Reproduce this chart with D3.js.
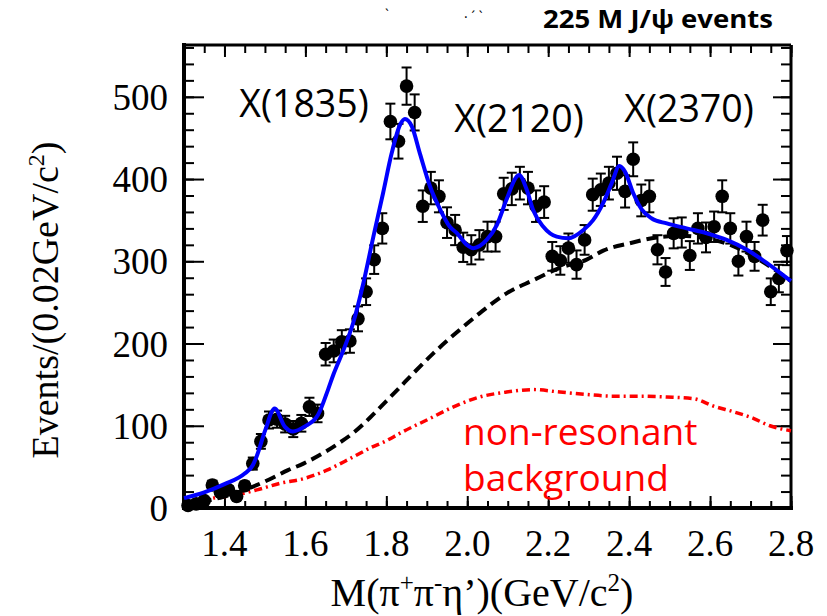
<!DOCTYPE html>
<html>
<head>
<meta charset="utf-8">
<script src="https://cdn.jsdelivr.net/npm/d3@7/dist/d3.min.js"></script>
<style>
  body { margin: 0; background: #fff; }
  svg { display: block; }
</style>
</head>
<body>
<svg id="chart" width="827" height="616"></svg>
<script>
// Bin centres of M(pi+ pi- eta') in GeV/c^2 (0.02 GeV bins)
const massBins = [
  1.31, 1.33, 1.35, 1.37, 1.39, 1.41, 1.43, 1.45, 1.47, 1.49,
  1.51, 1.53, 1.55, 1.57, 1.59, 1.61, 1.63, 1.65, 1.67, 1.69,
  1.71, 1.73, 1.75, 1.77, 1.79, 1.81, 1.83, 1.85, 1.87, 1.89,
  1.91, 1.93, 1.95, 1.97, 1.99, 2.01, 2.03, 2.05, 2.07, 2.09,
  2.11, 2.13, 2.15, 2.17, 2.19, 2.21, 2.23, 2.25, 2.27, 2.29,
  2.31, 2.33, 2.35, 2.37, 2.39, 2.41, 2.43, 2.45, 2.47, 2.49,
  2.51, 2.53, 2.55, 2.57, 2.59, 2.61, 2.63, 2.65, 2.67, 2.69,
  2.71, 2.73, 2.75, 2.77, 2.79
];
// Events per bin
const events = [
  3, 5, 9, 28, 19, 22, 14, 27, 54, 81,
  107, 108, 102, 96, 103, 123, 115, 187, 191, 202,
  203, 230, 263, 302, 340, 470, 446, 513, 481, 367,
  389, 379, 347, 338, 317, 314, 320, 330, 330, 382,
  388, 395, 389, 367, 372, 306, 301, 316, 296, 326,
  381, 387, 395, 407, 385, 424, 374, 379, 314, 287,
  334, 335, 307, 340, 329, 342, 379, 340, 300, 330,
  306, 350, 263, 279, 313
];

// Total fit (solid blue)
const fitMass = [
  1.30, 1.35, 1.40, 1.45, 1.47, 1.479, 1.501, 1.524, 1.549, 1.569,
  1.598, 1.631, 1.656, 1.669, 1.694, 1.718, 1.743, 1.768, 1.792, 1.813,
  1.834, 1.846, 1.863, 1.883, 1.908, 1.933, 1.957, 1.975, 1.999, 2.015,
  2.048, 2.073, 2.097, 2.122, 2.128, 2.147, 2.163, 2.188, 2.221, 2.25,
  2.287, 2.311, 2.336, 2.357, 2.376, 2.39, 2.41, 2.431, 2.456, 2.493,
  2.542, 2.592, 2.641, 2.691, 2.74, 2.773, 2.80
];
const fitTotal = [
  12, 19, 29, 42, 52, 62, 95, 121, 99, 93,
  99, 113, 144, 162, 192, 225, 273, 330, 383, 431,
  466, 473, 464, 431, 391, 363, 342, 334, 320, 316,
  326, 344, 375, 403, 405, 387, 362, 342, 330, 328,
  338, 350, 371, 395, 416, 409, 383, 363, 352, 346,
  340, 334, 326, 314, 298, 286, 276
];

// Total background (black dashed)
const bkgMass = [
  1.30, 1.40, 1.455, 1.512, 1.557, 1.595, 1.648, 1.677, 1.72, 1.76,
  1.80, 1.826, 1.867, 1.916, 1.982, 2.031, 2.097, 2.163, 2.229,
  2.295, 2.336, 2.402, 2.468, 2.53, 2.60, 2.65, 2.70, 2.75, 2.80
];
const bkgTotal = [
  4, 14, 23, 35, 46, 54, 68, 77, 92, 110,
  130, 143, 164, 188, 217, 237, 261, 277, 292,
  302, 313, 322, 329, 331, 327, 320, 308, 293, 276
];

// Non-resonant background (red dash-dot)
const nonresMass = [
  1.30, 1.323, 1.372, 1.43, 1.48, 1.537, 1.598, 1.653, 1.71, 1.76,
  1.801, 1.834, 1.90, 1.966, 2.031, 2.097, 2.163, 2.229, 2.295, 2.361,
  2.427, 2.493, 2.559, 2.608, 2.658, 2.707, 2.748, 2.80
];
const nonresBkg = [
  3, 6, 12, 16, 22, 30, 36, 46, 60, 73,
  82, 91, 107, 123, 135, 141, 144, 141, 138, 136,
  136, 135, 133, 124, 117, 109, 100, 94
];

const xTicks = [1.4, 1.6, 1.8, 2.0, 2.2, 2.4, 2.6, 2.8];
const yTicks = [0, 100, 200, 300, 400, 500];
const resonanceNames = ["X(1835)", "X(2120)", "X(2370)"];

const svg = d3.select("#chart");
const x = d3.scaleLinear().domain([1.3, 2.8]).range([184, 791]);
const y = d3.scaleLinear().domain([0, 563]).range([508, 45]);

const xMinor = d3.range(1.30, 2.8001, 0.05);
const yMinor = d3.range(0, 561, 20);

// frame ticks (all pointing inward)
function tickLayer(axis, transform) {
  const g = svg.append("g").attr("transform", transform).call(axis);
  g.select(".domain").remove();
  g.selectAll(".tick line").attr("stroke", "#000").attr("stroke-width", 2);
  g.selectAll("text").remove();
  return g;
}
tickLayer(d3.axisLeft(y).tickValues(yMinor).tickSize(-10), "translate(184,0)");
tickLayer(d3.axisLeft(y).tickValues(yTicks).tickSize(-20), "translate(184,0)");
tickLayer(d3.axisRight(y).tickValues(yMinor).tickSize(-10), "translate(791,0)");
tickLayer(d3.axisRight(y).tickValues(yTicks).tickSize(-18), "translate(791,0)");
tickLayer(d3.axisBottom(x).tickValues(xMinor).tickSize(-7), "translate(0,508)");
tickLayer(d3.axisBottom(x).tickValues(xTicks).tickSize(-12), "translate(0,508)");
tickLayer(d3.axisTop(x).tickValues(xMinor).tickSize(-8), "translate(0,45)");
tickLayer(d3.axisTop(x).tickValues(xTicks).tickSize(-12), "translate(0,45)");

// frame
svg.append("line").attr("x1", 184).attr("x2", 791).attr("y1", 45).attr("y2", 45)
  .attr("stroke", "#000").attr("stroke-width", 3);
svg.append("line").attr("x1", 791).attr("x2", 791).attr("y1", 45).attr("y2", 508)
  .attr("stroke", "#000").attr("stroke-width", 3);
svg.append("line").attr("x1", 184).attr("x2", 184).attr("y1", 43).attr("y2", 510)
  .attr("stroke", "#000").attr("stroke-width", 4);
svg.append("line").attr("x1", 182).attr("x2", 793).attr("y1", 508).attr("y2", 508)
  .attr("stroke", "#000").attr("stroke-width", 4);

// tick labels
const serif = "'Liberation Serif', 'DejaVu Serif', serif";
svg.append("g").selectAll("text").data(xTicks).join("text")
  .attr("x", d => x(d)).attr("y", 556)
  .attr("text-anchor", "middle")
  .style("font-family", serif).style("font-size", "37px")
  .text(d => d3.format(".1f")(d));
svg.append("g").selectAll("text").data(yTicks).join("text")
  .attr("x", 168).attr("y", d => y(d) + 13)
  .attr("text-anchor", "end")
  .style("font-family", serif).style("font-size", "37px")
  .text(d => d);

// axis titles
const xt = svg.append("text").attr("x", 482).attr("y", 606).attr("text-anchor", "middle")
  .style("font-family", serif).style("font-size", "40px");
xt.append("tspan").text("M(π");
xt.append("tspan").attr("dy", -15).style("font-size", "25px").text("+");
xt.append("tspan").attr("dy", 15).text("π");
xt.append("tspan").attr("dy", -15).style("font-size", "25px").text("-");
xt.append("tspan").attr("dy", 15).text("η’)(GeV/c");
xt.append("tspan").attr("dy", -15).style("font-size", "25px").text("2");
xt.append("tspan").attr("dy", 15).text(")");

const yt = svg.append("text").attr("transform", "translate(58,300) rotate(-90)")
  .attr("text-anchor", "middle")
  .style("font-family", serif).style("font-size", "38px");
yt.append("tspan").text("Events/(0.02GeV/c");
yt.append("tspan").attr("dy", -14).style("font-size", "24px").text("2");
yt.append("tspan").attr("dy", 14).text(")");

// curves
const lineOf = (xs, ys) => d3.line().x((d, i) => x(xs[i])).y(d => y(d)).curve(d3.curveMonotoneX)(ys);

svg.append("path").attr("d", lineOf(nonresMass, nonresBkg))
  .attr("fill", "none").attr("stroke", "#ff0000").attr("stroke-width", 3.5)
  .attr("stroke-dasharray", "8 4 2 4");
svg.append("path").attr("d", lineOf(bkgMass, bkgTotal))
  .attr("fill", "none").attr("stroke", "#000").attr("stroke-width", 4)
  .attr("stroke-dasharray", "11 6");

// data points with sqrt(N) errors
const pts = svg.append("g");
const bars = pts.selectAll("g").data(events).join("g");
bars.append("line")
  .attr("x1", (d, i) => x(massBins[i])).attr("x2", (d, i) => x(massBins[i]))
  .attr("y1", d => y(d + Math.sqrt(d))).attr("y2", d => y(Math.max(0, d - Math.sqrt(d))))
  .attr("stroke", "#000").attr("stroke-width", 2);
[1, -1].forEach(s => {
  bars.append("line")
    .attr("x1", (d, i) => x(massBins[i]) - 5).attr("x2", (d, i) => x(massBins[i]) + 5)
    .attr("y1", d => y(Math.max(0, d + s * Math.sqrt(d)))).attr("y2", d => y(Math.max(0, d + s * Math.sqrt(d))))
    .attr("stroke", "#000").attr("stroke-width", 2);
});
bars.append("circle")
  .attr("cx", (d, i) => x(massBins[i])).attr("cy", d => y(d)).attr("r", 6.8)
  .attr("fill", "#000");

svg.append("path").attr("d", lineOf(fitMass, fitTotal))
  .attr("fill", "none").attr("stroke", "#0000ff").attr("stroke-width", 4);

// annotations
const sans = "'Open Sans', 'Noto Sans', sans-serif";
const labelPos = [[304, 117], [519, 132], [689, 122]];
svg.append("g").selectAll("text").data(resonanceNames).join("text")
  .attr("x", (d, i) => labelPos[i][0]).attr("y", (d, i) => labelPos[i][1])
  .attr("text-anchor", "middle")
  .style("font-family", sans).style("font-size", "37.5px")
  .text(d => d);

svg.append("text").attr("x", 463).attr("y", 445)
  .style("font-family", sans).style("font-size", "37px").attr("fill", "#ff0000")
  .text("non-resonant");
svg.append("text").attr("x", 463).attr("y", 491)
  .style("font-family", sans).style("font-size", "37px").attr("fill", "#ff0000")
  .text("background");

svg.append("text").attr("x", 543).attr("y", 28)
  .attr("textLength", 230).attr("lengthAdjust", "spacingAndGlyphs")
  .style("font-family", sans).style("font-size", "25px").style("font-weight", "bold")
  .text("225 M J/ψ events");
svg.append("text").attr("x", 385).attr("y", 20)
  .style("font-family", sans).style("font-size", "14px").text("`");
svg.append("text").attr("x", 464).attr("y", 22)
  .style("font-family", sans).style("font-size", "14px").text("·  ´  `");
</script>
</body>
</html>
